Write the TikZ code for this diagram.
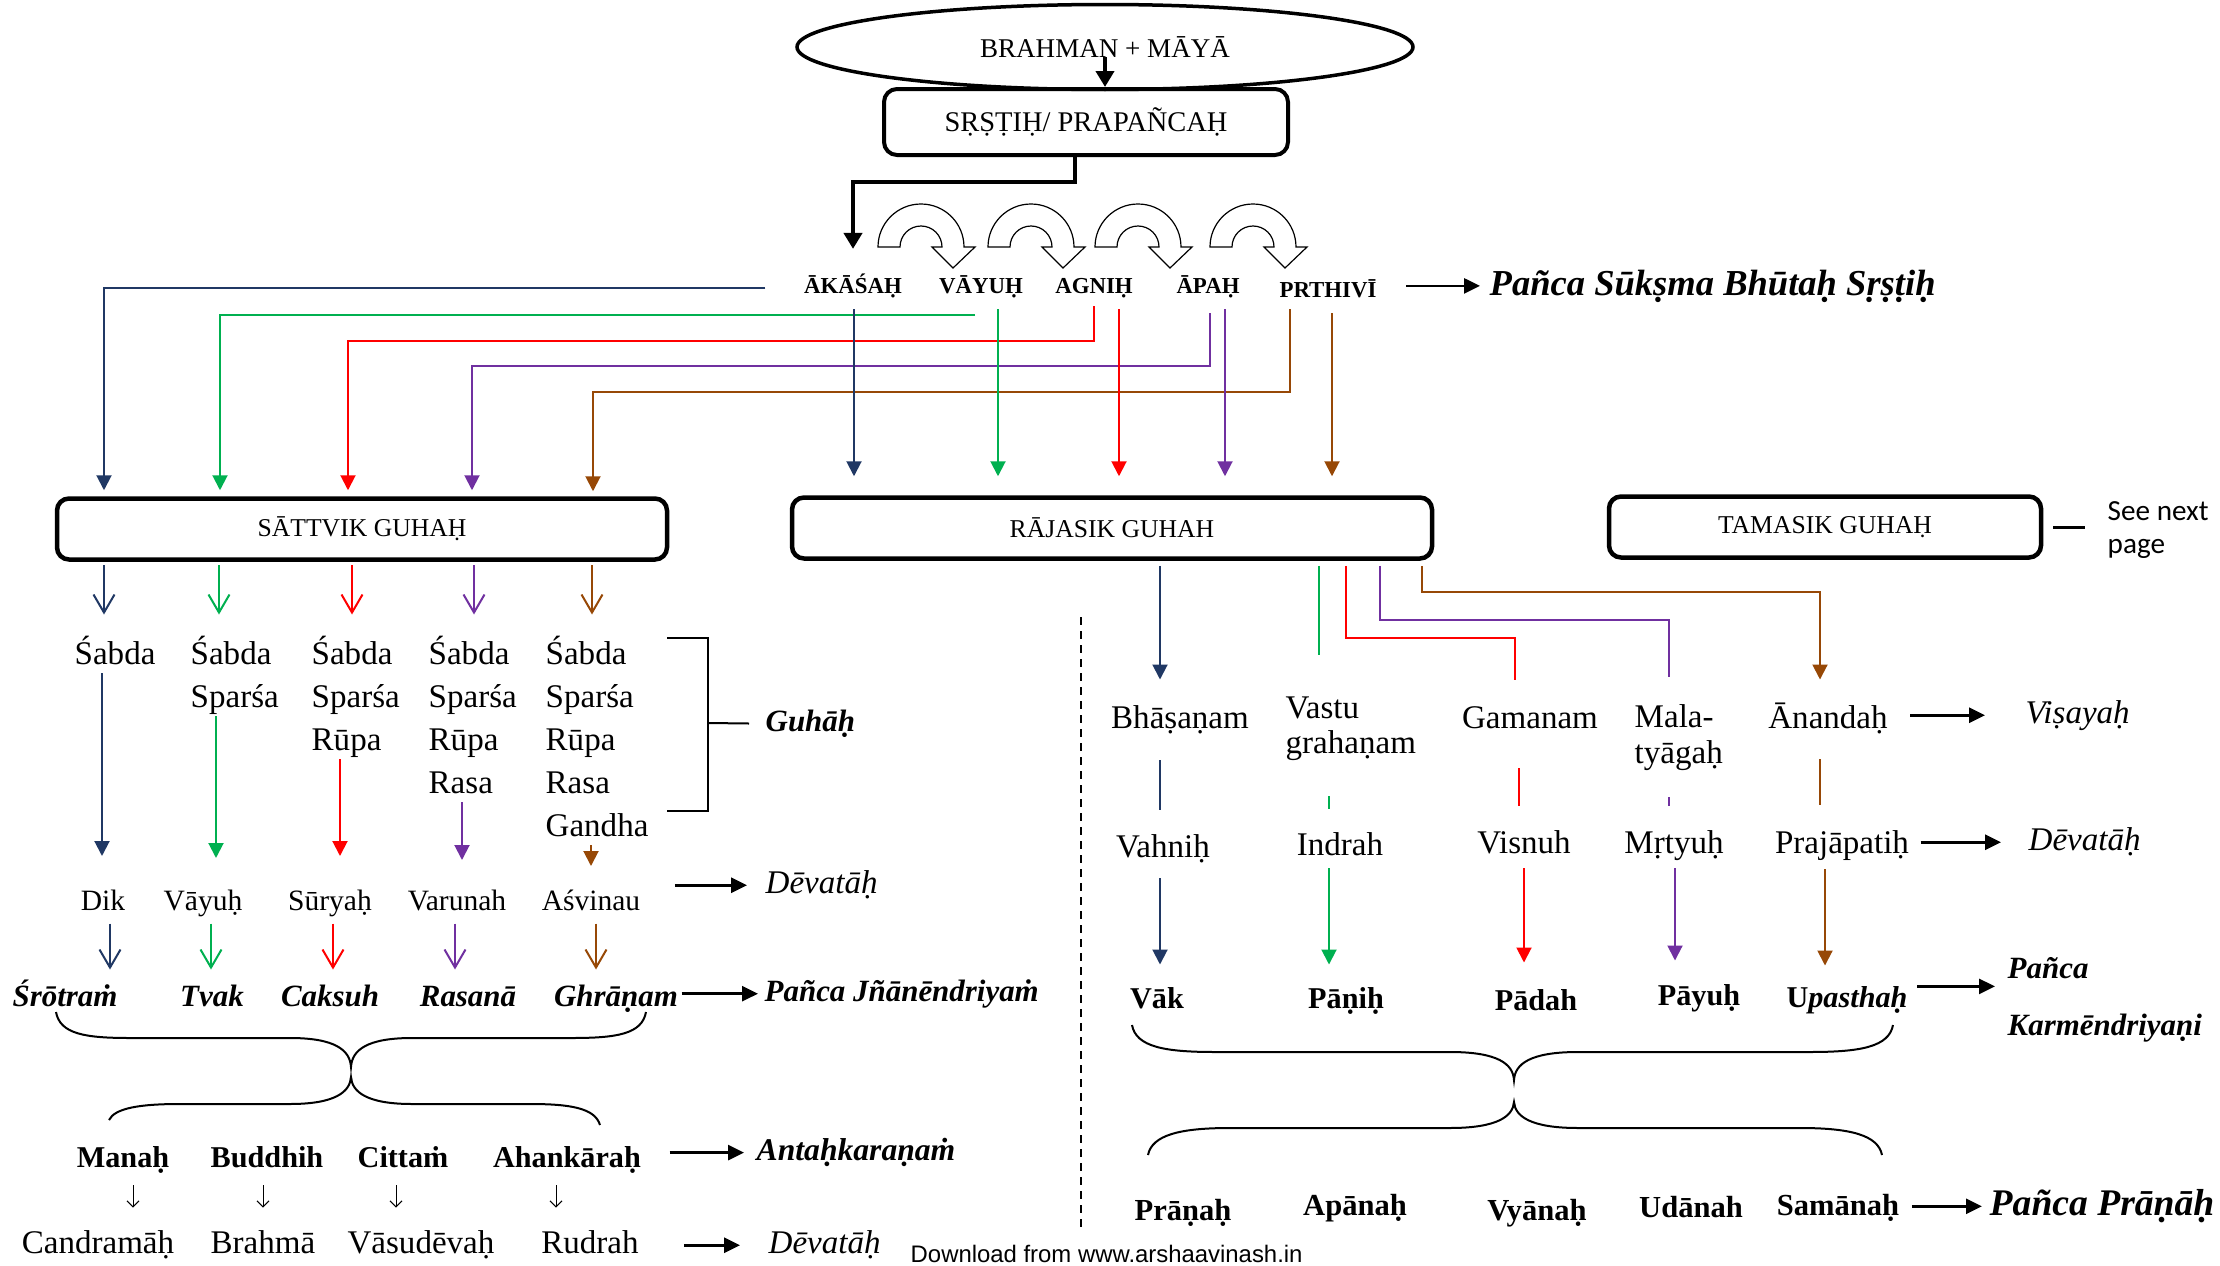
\documentclass[tikz,border=0pt]{standalone}
\usepackage{fontspec}
\setmainfont{Liberation Serif}
\newfontfamily\calibrifont{Carlito}
\newfontfamily\arialfont{Liberation Sans}
\usepackage{xcolor}
\usepackage{tikz}
\usetikzlibrary{shapes.geometric,arrows.meta,positioning,calc}

\definecolor{navyc}{RGB}{32,56,100}
\definecolor{greenc}{RGB}{0,176,80}
\definecolor{redc}{RGB}{255,0,0}
\definecolor{purplec}{RGB}{112,48,160}
\definecolor{brownc}{RGB}{151,72,6}
\newcommand{\setfs}[1]{\fontsize{#1}{#1}\selectfont}

\begin{document}
\begin{tikzpicture}[x=0.1mm, y=-0.1mm,
    reg/.style={inner sep=0pt, anchor=base, text height=2.38mm, text depth=0.83mm, font=\setfs{9.4}},
    dk/.style={inner sep=0pt, anchor=base, text height=2.13mm, text depth=0.74mm, font=\setfs{8.4}},
    bo/.style={inner sep=0pt, anchor=base, text height=2.18mm, text depth=0.76mm, font=\setfs{8.6}\bfseries},
    bi/.style={inner sep=0pt, anchor=base, text height=2.23mm, text depth=0.77mm, font=\setfs{8.8}\bfseries\itshape},
    it/.style={inner sep=0pt, anchor=base west, text height=2.38mm, text depth=0.83mm, font=\setfs{9.4}\itshape},
    el/.style={inner sep=0pt, anchor=base, text height=1.64mm, text depth=0.57mm, font=\setfs{6.5}\bfseries},
    guha/.style={draw, line width=0.45mm, rounded corners=1.2mm, minimum height=6.1mm, font=\setfs{7.3}},
    fa/.style={-{Triangle[length=1.5mm,width=1.5mm]}, line width=0.2mm},
    barb/.style={-{Straight Barb[length=1.8mm,width=2.1mm]}, line width=0.2mm},
    la/.style={-{Triangle[length=1.6mm,width=1.5mm]}, line width=0.27mm},
    ba/.style={-{Triangle[length=1.6mm,width=1.8mm]}, line width=0.4mm},
    tinyarr/.style={-{Straight Barb[length=0.6mm,width=1.2mm]}, line width=0.1mm},
    cl/.style={line width=0.2mm},
    brace/.style={line width=0.2mm}]

    \fill[white] (0,0) rectangle (2220,1266);
    \useasboundingbox (0,0) rectangle (2220,1266);

    % Brahman and srsti
    \node[ellipse, draw, line width=0.35mm, minimum width=61.6mm, minimum height=8.5mm, font=\setfs{7.7}] (brahman) at (1105,47) {BRAHMAN + MĀYĀ};
    \node[draw, rounded corners=1.3mm, line width=0.4mm, minimum width=40.4mm, minimum height=6.6mm, font=\setfs{8.1}] (srsti) at (1086,122) {SṚṢṬIḤ/ PRAPAÑCAḤ};
    \draw[ba] ($(brahman.center)+(0,10)$) -- (srsti.north -| brahman.center);

    % Five elements
    \node[el] (akasa) at (853,293) {ĀKĀŚAḤ};
    \node[el] (vayu) at (981,293) {VĀYUḤ};
    \node[el] (agni) at (1094,293) {AGNIḤ};
    \node[el] (apah) at (1208,293) {ĀPAḤ};
    \node[el] (prthivi) at (1328,297) {PRTHIVĪ};
    \node[inner sep=0pt, anchor=base west, font=\setfs{10.4}\bfseries\itshape] (pss) at (1489,295) {Pañca Sūkṣma Bhūtaḥ Sṛṣṭiḥ};
    \draw[ba, shorten >=2.7mm] ([xshift=-1.1mm]srsti.south) -- ++(0,25) -| (akasa.north);
    \draw[la, shorten <=2.9mm, shorten >=0.9mm] (prthivi.east |- pss.west) -- (pss.west);

    % U-turn arrows between elements
    \foreach \cx in {921,1031,1138,1253}
        \filldraw[fill=white, draw=black, line width=0.12mm] (\cx-43,247) arc[start angle=180, end angle=360, radius=43]
            -- (\cx+54,247) -- (\cx+32,268) -- (\cx+11,247) -- (\cx+21,247)
            arc[start angle=360, end angle=180, radius=21] -- cycle;

    % Guha boxes
    \node[guha, minimum width=61mm] (sattvik) at (362,529) {SĀTTVIK GUHAḤ};
    \node[guha, minimum width=64mm] (rajasik) at (1112,528) {RĀJASIK GUHAH};
    \node[guha, minimum width=43.2mm] (tamasik) at (1825,527) {TAMASIK GUHAḤ};
    \node[inner sep=0pt, anchor=north west, align=left, font=\calibrifont\fontsize{8.3}{9.4}\selectfont] (seenext) at (2107,501) {See next\\page};
    \draw[line width=0.3mm, shorten <=1mm, shorten >=2.2mm] (tamasik.east) -- (tamasik.east -| seenext.west);

    % Elements to sattvik
    \draw[navyc, cl, fa, shorten >=0.6mm] ($(akasa.west)+(-38,0)$) -| (sattvik.north -| 104,0);
    \draw[greenc, cl, fa, shorten >=0.6mm] ($(vayu.south)+(-6,16)$) -| (sattvik.north -| 220,0);
    \draw[redc, cl, fa, shorten >=0.6mm] ($(agni.south)+(0,7)$) -- ++(0,35) -| (sattvik.north -| 348,0);
    \draw[purplec, cl, fa, shorten >=0.6mm] ($(apah.south)+(2,14)$) -- ++(0,53) -| (sattvik.north -| 472,0);
    \draw[brownc, cl, fa, shorten >=0.5mm] ($(prthivi.south)+(-38,6)$) -- ++(0,83) -| (sattvik.north -| 593,0);

    % Elements to rajasik
    \foreach \n/\x/\c in {akasa/854/navyc, vayu/998/greenc, agni/1119/redc, apah/1225/purplec, prthivi/1332/brownc}
        \draw[\c, cl, fa, shorten <=1mm, shorten >=1.9mm] (\n.south -| \x,0) -- (rajasik.north -| \x,0);

    % Sattvik guhah columns
    \foreach \x [count=\c] in {74,190,311,428,545} {
        \foreach \w [count=\r] in {Śabda,Sparśa,Rūpa,Rasa,Gandha} {
            \ifnum\r>\c\relax\else
                \node[reg, anchor=base west] (g\c-\r) at (\x,621+43*\r) {\w};
            \fi
        }
    }
    \foreach \x/\c [count=\n] in {104/navyc,219/greenc,352/redc,474/purplec,592/brownc}
        \draw[\c, barb, shorten <=0.35mm, shorten >=2.5mm] (sattvik.south -| \x,0) -- (g\n-1.north -| \x,0);

    % Guhah bracket
    \coordinate (brk) at (708,723);
    \node[bi, anchor=base west] (guhah) at (765,731) {Guhāḥ};
    \draw[line width=0.2mm] (667,638) -| (brk) |- (667,811);
    \draw[line width=0.2mm, shorten >=1.6mm] (brk) -- (guhah.west);

    % Devatah (left)
    \node[dk] (dev1) at (103,910) {Dik};
    \node[dk] (dev2) at (203,910) {Vāyuḥ};
    \node[dk] (dev3) at (330,910) {Sūryaḥ};
    \node[dk] (dev4) at (457,910) {Varunah};
    \node[dk] (dev5) at (591,910) {Aśvinau};
    \node[it] (devl) at (765,893) {Dēvatāḥ};
    \foreach \x/\c/\s [count=\n] in {102/navyc/3.2mm, 216/greenc/3.0mm, 340/redc/3.2mm, 462/purplec/2.8mm, 591/brownc/2.2mm}
        \draw[\c, cl, fa, shorten >=\s] (g\n-\n.south -| \x,0) -- (dev\n.north -| \x,0);
    \draw[la, shorten <=3.4mm, shorten >=1.8mm] (dev5.east |- devl.west) -- (devl.west);

    % Jnanendriyam
    \node[bi] (jn1) at (65,1006) {Śrōtraṁ};
    \node[bi] (jn2) at (212,1006) {Tvak};
    \node[bi] (jn3) at (330,1006) {Caksuh};
    \node[bi] (jn4) at (468,1006) {Rasanā};
    \node[bi] (jn5) at (616,1006) {Ghrāṇam};
    \node[bi, anchor=base west] (pjn) at (764,1001) {Pañca Jñānēndriyaṁ};
    \foreach \x/\c [count=\n] in {110/navyc,211/greenc,333/redc,455/purplec,596/brownc}
        \draw[\c, barb, shorten <=0.55mm, shorten >=1.35mm] (dev\n.south -| \x,0) -- (jn\n.north -| \x,0);
    \draw[la, shorten <=0.3mm, shorten >=0.6mm] (jn5.east |- pjn.west) -- (pjn.west);

    % Braces (left)
    \draw[brace] (56,1012) .. controls (60,1034) and (85,1038) .. (130,1038) -- (290,1038)
        .. controls (335,1038) and (350,1050) .. (351,1067) .. controls (352,1050) and (367,1038) .. (412,1038)
        -- (572,1038) .. controls (617,1038) and (642,1034) .. (646,1012);
    \draw[brace] (109,1120) .. controls (115,1108) and (140,1104) .. (180,1104) -- (290,1104)
        .. controls (335,1104) and (350,1092) .. (351,1077) .. controls (352,1092) and (367,1104) .. (412,1104)
        -- (530,1104) .. controls (570,1104) and (595,1108) .. (600,1125);

    % Antahkaranam
    \node[bo] (ak1) at (123,1167) {Manaḥ};
    \node[bo] (ak2) at (267,1167) {Buddhih};
    \node[bo] (ak3) at (403,1167) {Cittaṁ};
    \node[bo] (ak4) at (567,1167) {Ahankāraḥ};
    \node[inner sep=0pt, anchor=base west, text height=2.27mm, text depth=0.79mm, font=\setfs{9}\bfseries\itshape] (akn) at (756,1160) {Antaḥkaraṇaṁ};
    \draw[la, shorten <=2.8mm, shorten >=1.2mm] (ak4.east |- akn.west) -- (akn.west);

    % Devatah (bottom)
    \node[reg] (dv1) at (98,1253) {Candramāḥ};
    \node[reg] (dv2) at (263,1253) {Brahmā};
    \node[reg] (dv3) at (421,1253) {Vāsudēvaḥ};
    \node[reg] (dv4) at (590,1253) {Rudrah};
    \node[it] (devb) at (768,1253) {Dēvatāḥ};
    \foreach \x [count=\n] in {133,263,396,556}
        \draw[tinyarr, shorten <=1mm, shorten >=2.1mm] (ak\n.south -| \x,0) -- (dv\n.north -| \x,0);
    \draw[la, shorten <=4.5mm, shorten >=2.8mm] (dv4.east |- devb.west) -- (devb.west);
    \node[inner sep=0pt, anchor=base west, font=\arialfont\setfs{6.8}] (dl) at (910,1262) {Download from www.arshaavinash.in};

    % Divider
    \draw[line width=0.15mm, dash pattern=on 0.8mm off 0.6mm] (1081,617) -- (1081,1227);

    % Rajasik row 1
    \node[reg] (bhasana) at (1180,728) {Bhāṣaṇam};
    \node[reg, anchor=base west] (vastu) at (1285,718) {Vastu};
    \node[reg, anchor=base west] (grahana) at (1285,753) {grahaṇam};
    \node[reg] (gamanam) at (1530,728) {Gamanam};
    \node[reg, anchor=base west] (mala) at (1634,727) {Mala-};
    \node[reg, anchor=base west] (tyaga) at (1634,763) {tyāgaḥ};
    \node[reg] (ananda) at (1828,728) {Ānandaḥ};
    \node[it] (visaya) at (2025,723) {Viṣayaḥ};
    \draw[navyc, cl, fa, shorten <=0.5mm, shorten >=2.4mm] (rajasik.south -| 1160,0) -- (bhasana.north -| 1160,0);
    \draw[greenc, cl, shorten <=0.5mm, shorten >=3.9mm] (rajasik.south -| 1319,0) -- (vastu.north -| 1319,0);
    \draw[redc, cl, shorten <=0.5mm, shorten >=2.4mm] (rajasik.south -| 1346,0) -- (1346,638) -| (gamanam.north -| 1515,0);
    \draw[purplec, cl, shorten <=0.5mm, shorten >=2.6mm] (rajasik.south -| 1380,0) -- (1380,620) -| (mala.north -| 1669,0);
    \draw[brownc, cl, fa, shorten <=0.5mm, shorten >=2.4mm] (rajasik.south -| 1422,0) -- (1422,592) -| (ananda.north -| 1820,0);
    \draw[la, shorten <=2.2mm, shorten >=4mm] (ananda.east |- visaya.west) -- (visaya.west);

    % Rajasik row 2
    \node[reg] (vahni) at (1163,857) {Vahniḥ};
    \node[reg] (indra) at (1340,855) {Indrah};
    \node[reg] (visnu) at (1524,853) {Visnuh};
    \node[reg] (mrtyu) at (1674,853) {Mṛtyuḥ};
    \node[reg] (praja) at (1842,853) {Prajāpatiḥ};
    \node[it] (devr) at (2028,850) {Dēvatāḥ};
    \draw[navyc, cl, shorten <=2.3mm, shorten >=2.3mm] (bhasana.south -| 1160,0) -- (vahni.north -| 1160,0);
    \draw[greenc, cl, shorten <=3.4mm, shorten >=2.2mm] (grahana.south -| 1329,0) -- (indra.north -| 1329,0);
    \draw[redc, cl, shorten <=3.1mm, shorten >=2.3mm] (gamanam.south -| 1519,0) -- (visnu.north -| 1519,0);
    \draw[purplec, cl, shorten <=2.5mm, shorten >=2.3mm] (tyaga.south -| 1669,0) -- (mrtyu.north -| 1669,0);
    \draw[brownc, cl, shorten <=2.2mm, shorten >=2.4mm] (ananda.south -| 1820,0) -- (praja.north -| 1820,0);
    \draw[la, shorten <=1.1mm, shorten >=2.7mm] (praja.east |- devr.west) -- (devr.west);

    % Karmendriyani
    \node[bo] (vak) at (1157,1008) {Vāk};
    \node[bo] (pani) at (1346,1008) {Pāṇiḥ};
    \node[bo] (pada) at (1536,1010) {Pādah};
    \node[bo] (payu) at (1699,1005) {Pāyuḥ};
    \node[bo] (upastha) at (1847,1007) {U\textit{pasthaḥ}};
    \node[bi, anchor=base west] (pk1) at (2007,978) {Pañca};
    \node[bi, anchor=base west] (pk2) at (2007,1035) {Karmēndriyaṇi};
    \draw[navyc, cl, fa, shorten <=1.2mm, shorten >=2.1mm] (vahni.south -| 1160,0) -- (vak.north -| 1160,0);
    \draw[greenc, cl, fa, shorten <=0.4mm, shorten >=2.1mm] (indra.south -| 1329,0) -- (pani.north -| 1329,0);
    \draw[redc, cl, fa, shorten <=0.6mm, shorten >=2.5mm] (visnu.south -| 1524,0) -- (pada.north -| 1524,0);
    \draw[purplec, cl, fa, shorten <=0.6mm, shorten >=2.2mm] (mrtyu.south -| 1675,0) -- (payu.north -| 1675,0);
    \draw[brownc, cl, fa, shorten <=0.7mm, shorten >=1.9mm] (praja.south -| 1825,0) -- (upastha.north -| 1825,0);
    \draw[la, shorten <=0.9mm, shorten >=1.2mm] (upastha.east |- pk1.south west) -- (pk1.south west);

    % Braces (right)
    \draw[brace] (1132,1025) .. controls (1136,1047) and (1165,1052) .. (1215,1052) -- (1450,1052)
        .. controls (1498,1052) and (1513,1064) .. (1514,1080) .. controls (1515,1064) and (1530,1052) .. (1578,1052)
        -- (1810,1052) .. controls (1860,1052) and (1889,1047) .. (1893,1025);
    \draw[brace] (1148,1155) .. controls (1152,1135) and (1180,1128) .. (1230,1128) -- (1450,1128)
        .. controls (1498,1128) and (1513,1116) .. (1514,1102) .. controls (1515,1116) and (1530,1128) .. (1578,1128)
        -- (1800,1128) .. controls (1850,1128) and (1878,1135) .. (1882,1155);

    % Pranah
    \node[bo, font=\setfs{8.7}\bfseries] (prana) at (1183,1220) {Prāṇaḥ};
    \node[bo, font=\setfs{8.7}\bfseries] (apana) at (1355,1215) {Apānaḥ};
    \node[bo, font=\setfs{8.7}\bfseries] (vyana) at (1537,1220) {Vyānaḥ};
    \node[bo, font=\setfs{8.7}\bfseries] (udana) at (1691,1217) {Udānah};
    \node[bo, font=\setfs{8.7}\bfseries] (samana) at (1838,1215) {Samānaḥ};
    \node[inner sep=0pt, anchor=base west, text height=2.66mm, text depth=0.92mm, font=\setfs{10.7}\bfseries\itshape] (ppr) at (1989,1215) {Pañca Prāṇāḥ};
    \draw[la, shorten <=1.2mm, shorten >=0.7mm] (samana.east |- ppr.west) -- (ppr.west);
\end{tikzpicture}
\end{document}
